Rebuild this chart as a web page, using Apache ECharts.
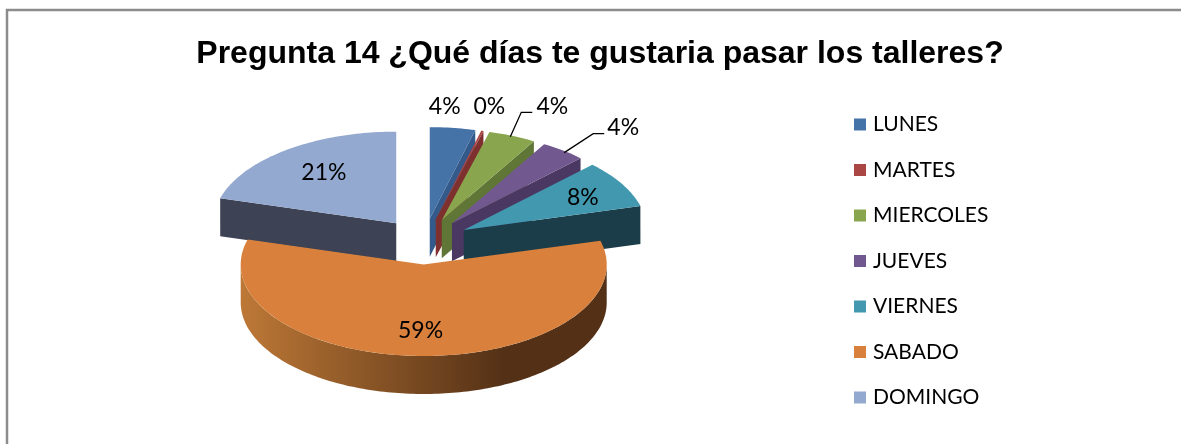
<!DOCTYPE html>
<html><head><meta charset="utf-8">
<style>html,body{margin:0;padding:0;background:#fff}#c{width:1181px;height:444px}</style>
<script src="https://cdn.jsdelivr.net/npm/echarts@6/dist/echarts.min.js"></script>
</head><body><div id="c"></div>
<script>
// ---- data ----
var categories = ['LUNES','MARTES','MIERCOLES','JUEVES','VIERNES','SABADO','DOMINGO'];
var values = [4, 0.2, 4.2, 4, 8.4, 58.6, 20.6];
// ---- styles ----
var topColors  = ['#4572a7','#aa4643','#89a54e','#71588f','#4198af','#d8803c','#93a9cf'];
var sideColors = ['#335a8a','#7d302e','#5f7636','#4a3862','#1b3c49','#8a5228','#3d4354'];
var labelOffsets = [[-8,-21],[7,-24],[40,-29],[60,-23],[-39,14],[-2,-25],[38,22]];
var leaders = {2:[[-2,1],[9,-23.5],[20,-23.5]], 3:[[1,2],[30,-17],[41,-17]]};
var drawOrder = [0,1,2,3,4,6,5];
var P = {cx:424, cy:241.5, R:183, tilt:0.5, explode:46, depth:38};

var total = values.reduce(function(a,b){return a+b;},0);
var ranges = [], acc = 0;
values.forEach(function(v){ var s=acc/total*Math.PI*2; acc+=v; ranges.push([s,acc/total*Math.PI*2]); });
function pt(a, r, ox, oy, dz){ return [ox+r*Math.sin(a), oy-r*P.tilt*Math.cos(a)+(dz||0)]; }
function arcPts(a0,a1,ox,oy,dz){ var n=Math.max(2,Math.ceil(Math.abs(a1-a0)/0.02)),o=[];
  for(var i=0;i<=n;i++) o.push(pt(a0+(a1-a0)*i/n,P.R,ox,oy,dz)); return o; }

function renderSlice(idx){
  return function(params, api){
    var r=ranges[idx], a0=r[0], a1=r[1], mid=(a0+a1)/2;
    var ox=P.cx+P.explode*Math.sin(mid), oy=P.cy-P.explode*P.tilt*Math.cos(mid);
    var apex=[ox,oy], kids=[];
    function face(a){ var p0=pt(a,P.R,ox,oy), p1=[apex[0],apex[1]];
      kids.push({type:'polygon',shape:{points:[p1,p0,[p0[0],p0[1]+P.depth],[p1[0],p1[1]+P.depth]]},style:{fill:sideColors[idx]}}); }
    // cut faces that point to the viewer
    if(Math.sin(a1)>0.001) face(a1);
    if(Math.sin(a0)<-0.001) face(a0);
    // rim
    var s=Math.max(a0,Math.PI/2), e=Math.min(a1,Math.PI*1.5);
    if(e>s){
      var t=arcPts(s,e,ox,oy,0), b=arcPts(s,e,ox,oy,P.depth).reverse();
      var xl=ox-P.R, xr=ox+P.R;
      kids.push({type:'polygon',shape:{points:t.concat(b)},style:{fill:{type:'linear',x:xl,y:0,x2:xr,y2:0,global:true,
        colorStops:[{offset:0,color:'#bd7836'},{offset:0.72,color:'#543116'},{offset:1,color:'#543116'}]}}});
    }
    // top face
    kids.push({type:'polygon',shape:{points:[apex].concat(arcPts(a0,a1,ox,oy,0))},style:{fill:topColors[idx]}});
    // label
    var anchor=pt(mid,P.R,ox,oy), off=labelOffsets[idx];
    if(leaders[idx]){
      kids.push({type:'polyline',shape:{points:leaders[idx].map(function(d){return [anchor[0]+d[0],anchor[1]+d[1]];})},
        style:{stroke:'#000',lineWidth:1.3,fill:null}});
    }
    kids.push({type:'text',z2:50,style:{x:anchor[0]+off[0],y:anchor[1]+off[1],text:Math.round(values[idx])+'%',
      fill:'#000',font:'23px Lato',align:'center',verticalAlign:'middle'}});
    return {type:'group',children:kids};
  };
}

var series = drawOrder.map(function(i,k){
  return {type:'custom',name:categories[i],coordinateSystem:'none',renderItem:renderSlice(i),
    data:[values[i]],z:2+k,silent:true,animation:false,itemStyle:{color:topColors[i]}};
});

var chart = echarts.init(document.getElementById('c'),null,{renderer:'canvas'});
chart.setOption({
  animation:false,
  backgroundColor:'#fff',
  title:{text:'Pregunta 14 ¿Qué días te gustaria pasar los talleres?',left:595,top:33,textAlign:'center',
    textStyle:{fontFamily:'Liberation Sans',fontWeight:'bold',fontSize:32,color:'#000'}},
  legend:{orient:'vertical',left:849,top:109,icon:'rect',itemWidth:12,itemHeight:12,itemGap:24.5,
    selectedMode:false,data:categories,
    textStyle:{fontFamily:'Lato',fontSize:21,color:'#000',padding:[0,0,0,2]}},
  graphic:[{type:'rect',z:0,silent:true,shape:{x:7,y:10,width:1200,height:460},style:{fill:'none',stroke:'#8c8c8c',lineWidth:2.5}}],
  series:series
});
</script></body></html>
